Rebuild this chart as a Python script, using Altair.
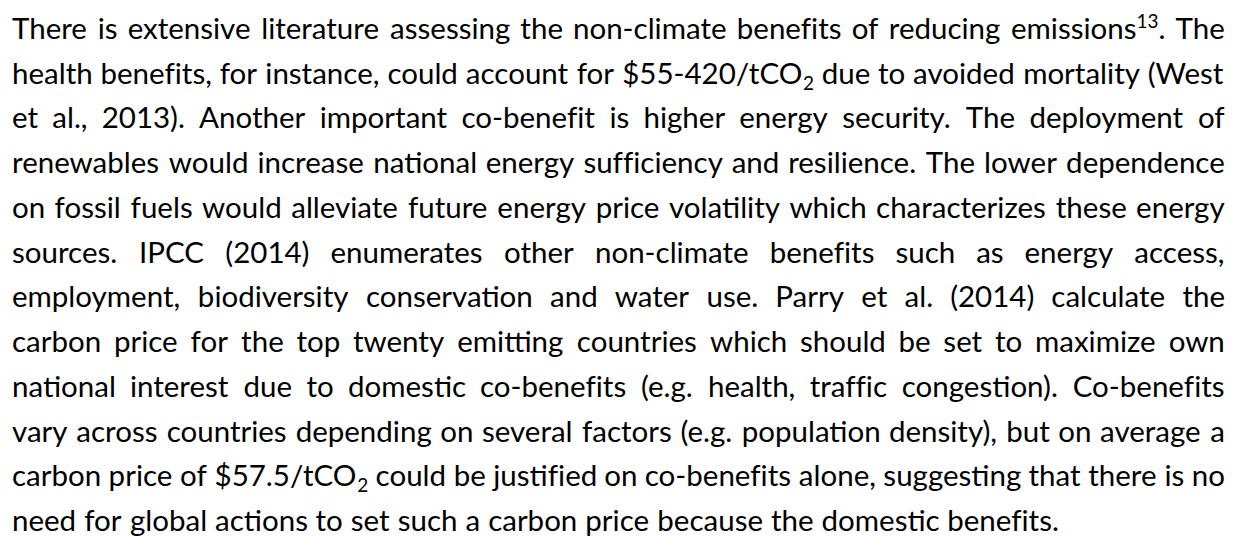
import glob
import os
import re

import altair as alt
import pandas as pd

# ---- text content (one entry per printed line; ^{..} = superscript, _{..} = subscript)
LINES = [
    "There is extensive literature assessing the non-climate benefits of reducing emissions^{13}. The",
    "health benefits, for instance, could account for $55-420/tCO_{2} due to avoided mortality (West",
    "et al., 2013). Another important co-benefit is higher energy security. The deployment of",
    "renewables would increase national energy sufficiency and resilience. The lower dependence",
    "on fossil fuels would alleviate future energy price volatility which characterizes these energy",
    "sources. IPCC (2014) enumerates other non-climate benefits such as energy access,",
    "employment, biodiversity conservation and water use. Parry et al. (2014) calculate the",
    "carbon price for the top twenty emitting countries which should be set to maximize own",
    "national interest due to domestic co-benefits (e.g. health, traffic congestion). Co-benefits",
    "vary across countries depending on several factors (e.g. population density), but on average a",
    "carbon price of $57.5/tCO_{2} could be justified on co-benefits alone, suggesting that there is no",
    "need for global actions to set such a carbon price because the domestic benefits.",
]
JUSTIFIED = [True] * 11 + [False]

# ---- layout / style settings
FONT = "Lato"
FONT_SIZE = 29.5
SCRIPT_SIZE = 19
SUP_DY, SUB_DY = -11, 6
W, H = 1228, 529
LEFT, RIGHT = 4, 1217
BASE_FIRST, BASE_LAST = 31, 523
LAST_GAP = 8.0
ZWNJ = "\u200c"

# ---- text measurement (font metrics when available)
method = "table"
_font_path = None
for pat in ["/usr/share/fonts/**/Lato-Regular.ttf", "/usr/share/fonts/**/Lato-Reg*.ttf",
            "/usr/local/share/fonts/**/Lato-Regular.ttf",
            os.path.expanduser("~/.fonts/**/Lato-Regular.ttf"),
            os.path.expanduser("~/.local/share/fonts/**/Lato-Regular.ttf")]:
    hits = glob.glob(pat, recursive=True)
    if hits:
        _font_path = hits[0]
        break

_ft = None
_pil = {}
if _font_path:
    try:
        from fontTools.ttLib import TTFont
        _f = TTFont(_font_path)
        _ft = (_f.getBestCmap(), _f["hmtx"], _f["head"].unitsPerEm)
        method = "fonttools"
    except Exception:
        try:
            from PIL import ImageFont
            ImageFont.truetype(_font_path, int(round(FONT_SIZE)))
            method = "pil"
        except Exception:
            method = "table"

_NARROW = set("il.,;:'!|")
_SEMI = set("jftrI()[]/- ")
_WIDE = set("mwMW")


def measure(text, size):
    text = text.replace(ZWNJ, "")
    if method == "fonttools":
        cmap, hmtx, upm = _ft
        tot = 0
        for ch in text:
            g = cmap.get(ord(ch))
            tot += hmtx[g][0] if g else upm * 0.5
        return tot * size / upm
    if method == "pil":
        key = int(round(size * 4))
        if key not in _pil:
            from PIL import ImageFont
            _pil[key] = ImageFont.truetype(_font_path, key)
        return _pil[key].getlength(text) / 4.0
    tot = 0.0
    for ch in text:
        if ch in _NARROW:
            tot += 0.24
        elif ch in _SEMI:
            tot += 0.33
        elif ch in _WIDE:
            tot += 0.82
        elif ch.isupper():
            tot += 0.63
        else:
            tot += 0.52
    return tot * size


TOKEN = re.compile(r"\^\{([^}]*)\}|_\{([^}]*)\}|([^^_]+)")


def no_liga(t):
    # keep f-ligatures apart, as in the reference typesetting
    return re.sub(r"f(?=[fil])", "f" + ZWNJ, t)


def segments(word):
    out = []
    for m in TOKEN.finditer(word):
        if m.group(1) is not None:
            out.append((m.group(1), "sup"))
        elif m.group(2) is not None:
            out.append((m.group(2), "sub"))
        else:
            out.append((no_liga(m.group(3)), "n"))
    return out


def size_of(kind):
    return FONT_SIZE if kind == "n" else SCRIPT_SIZE


rows = []
for i, (line, just) in enumerate(zip(LINES, JUSTIFIED)):
    words = [segments(w) for w in line.split(" ")]
    widths = [sum(measure(t, size_of(k)) for t, k in ws) for ws in words]
    if just and len(words) > 1:
        gap = (RIGHT - LEFT - sum(widths)) / (len(words) - 1)
    else:
        gap = LAST_GAP
    x = LEFT
    for ws in words:
        for t, k in ws:
            rows.append({"line": i, "x": x, "text": t, "kind": k})
            x += measure(t, size_of(k))
        x += gap

df = pd.DataFrame(rows)

base = alt.Chart(df).encode(
    x=alt.X("x:Q", scale=alt.Scale(domain=[0, W], nice=False, zero=False), axis=None),
    y=alt.Y("line:Q", scale=alt.Scale(domain=[0, len(LINES) - 1], range=[BASE_FIRST, BASE_LAST],
                                      nice=False, zero=False), axis=None),
    text="text:N",
)

normal = base.transform_filter(alt.datum.kind == "n").mark_text(
    align="left", baseline="alphabetic", font=FONT, fontSize=FONT_SIZE, color="#000000")
sup = base.transform_filter(alt.datum.kind == "sup").mark_text(
    align="left", baseline="alphabetic", font=FONT, fontSize=SCRIPT_SIZE, color="#000000", dy=SUP_DY)
sub = base.transform_filter(alt.datum.kind == "sub").mark_text(
    align="left", baseline="alphabetic", font=FONT, fontSize=SCRIPT_SIZE, color="#000000", dy=SUB_DY)

chart = alt.layer(normal, sup, sub).properties(
    width=W, height=H, autosize=alt.AutoSizeParams(type="none"), padding=0,
    background="#ffffff",
).configure_view(strokeWidth=0)

chart.save("out.html", embed_options={"renderer": "svg", "actions": False})
